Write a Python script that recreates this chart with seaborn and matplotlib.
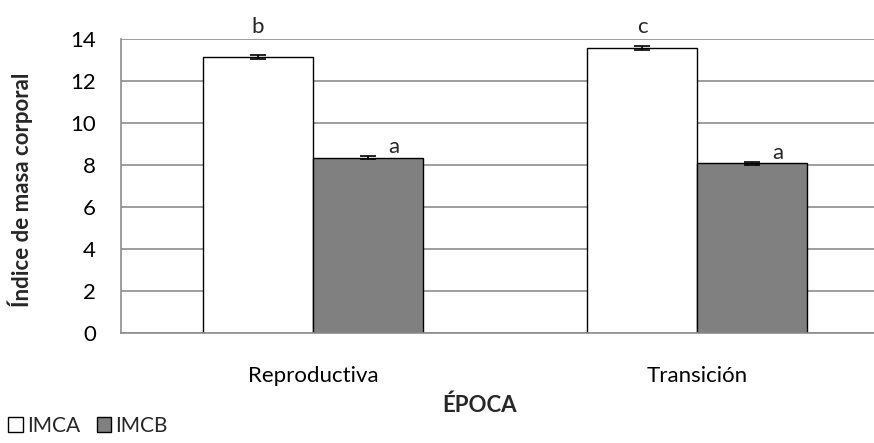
import matplotlib
matplotlib.use("Agg")
import matplotlib.pyplot as plt
import seaborn as sns
import pandas as pd
from matplotlib.patches import Patch
from matplotlib.ticker import FixedLocator

categories = ["Reproductiva", "Transición"]
series = ["IMCA", "IMCB"]
imca = [13.14, 13.58]
imcb = [8.35, 8.08]
imca_err = [0.09, 0.08]
imcb_err = [0.08, 0.08]
letters_imca = ["b", "c"]
letters_imcb = ["a", "a"]
colors = {"IMCA": "#ffffff", "IMCB": "#808080"}

rows = []
for i, c in enumerate(categories):
    rows.append({"ÉPOCA": c, "serie": "IMCA", "valor": imca[i], "err": imca_err[i], "letra": letters_imca[i]})
    rows.append({"ÉPOCA": c, "serie": "IMCB", "valor": imcb[i], "err": imcb_err[i], "letra": letters_imcb[i]})
df = pd.DataFrame(rows)

sns.set_theme(style="white")
plt.rcParams["font.family"] = ["Lato", "DejaVu Sans"]
FS = 16

fig = plt.figure(figsize=(8.74, 4.43), dpi=100)
ax = fig.add_axes([121/874, 1-333/443, (889-121)/874, (333-39)/443])

sns.barplot(data=df, x="ÉPOCA", y="valor", hue="serie", order=categories,
            hue_order=series, palette=colors, width=0.573, errorbar=None,
            edgecolor="black", linewidth=1.0, ax=ax, legend=False, zorder=2)

for s_idx, s in enumerate(series):
    cont = ax.containers[s_idx]
    sub = df[df["serie"] == s].set_index("ÉPOCA").loc[categories]
    for bar, (_, r) in zip(cont.patches, sub.iterrows()):
        xc = bar.get_x() + bar.get_width() / 2
        h = bar.get_height()
        ax.errorbar(xc, h, yerr=r["err"], fmt="none", ecolor="black",
                    elinewidth=1.2, capsize=6, capthick=1.2, zorder=3)
        if s == "IMCA":
            ax.text(xc, 14.1, r["letra"], ha="center", va="bottom", fontsize=FS, clip_on=False)
        else:
            ax.text(xc + 0.068, h + 0.02, r["letra"], ha="center", va="bottom", fontsize=FS)

ax.set_ylim(0, 14)
ax.set_xlim(-0.5, 1.5)
ax.set_yticks(range(0, 15, 2))
ax.yaxis.grid(True, color="#8c8c8c", linewidth=1.2, zorder=0)
ax.set_axisbelow(True)
for sp in ["top", "right"]:
    ax.spines[sp].set_visible(False)
for sp in ["left", "bottom"]:
    ax.spines[sp].set_color("#8c8c8c")
    ax.spines[sp].set_linewidth(1.2)

ax.xaxis.set_minor_locator(FixedLocator([-0.5, 0.5, 1.5]))
ax.tick_params(axis="x", which="major", length=0, labelsize=FS, pad=24, labelcolor="black")
ax.tick_params(axis="x", which="minor", length=6, color="#8c8c8c", width=1.2, direction="out")
ax.tick_params(axis="y", which="major", length=6, color="#8c8c8c", width=1.2, direction="out",
               labelsize=FS, pad=12, labelcolor="black")

ax.set_xlabel("")
ax.set_ylabel("")
fig.text(480/874, 1-405/443, "ÉPOCA", fontsize=FS, fontweight="bold", ha="center", va="center")
fig.text(20/874, 1-190/443, "Índice de masa corporal", fontsize=FS, fontweight="bold",
         ha="center", va="center", rotation=90)

handles = [Patch(facecolor=colors[s], edgecolor="black", linewidth=1.0, label=s) for s in series]
fig.legend(handles=handles, loc="lower left", bbox_to_anchor=(-0.005, -0.012), ncol=2,
           frameon=False, fontsize=15, handlelength=0.7, handleheight=0.7,
           handletextpad=0.2, columnspacing=0.8, borderaxespad=0.2)

fig.savefig("out.png", dpi=100)
